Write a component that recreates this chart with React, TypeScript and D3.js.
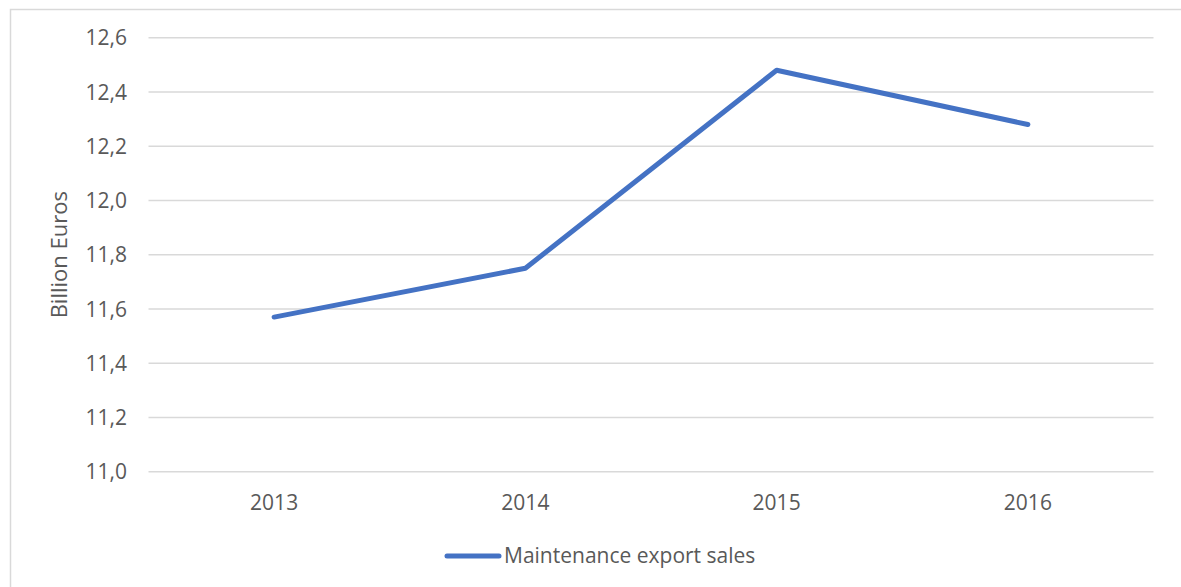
import React, { useEffect, useRef } from "react";
import * as d3 from "d3";

const years: string[] = ["2013", "2014", "2015", "2016"];
const values: number[] = [11.57, 11.75, 12.48, 12.28];
const yTicks: number[] = [11.0, 11.2, 11.4, 11.6, 11.8, 12.0, 12.2, 12.4, 12.6];
const seriesName = "Maintenance export sales";
const yTitle = "Billion Euros";

const W = 1181;
const H = 587;
const FONT = "'Open Sans', sans-serif";
const TEXT = "#595959";
const GRID = "#d9d9d9";
const BLUE = "#4472C4";
const FS = 21;

export default function App() {
  const ref = useRef<SVGSVGElement | null>(null);

  useEffect(() => {
    document.body.style.margin = "0";
    const svg = d3.select(ref.current);
    svg.selectAll("*").remove();

    const left = 148.5, right = 1153.5, top = 37.7, bottom = 471.7;
    const x = d3.scaleBand<string>().domain(years).range([left, right]);
    const y = d3.scaleLinear().domain([11.0, 12.6]).range([bottom, top]);

    svg.append("rect").attr("x", 0).attr("y", 0).attr("width", W).attr("height", H).attr("fill", "#fff");
    svg.append("rect").attr("x", 10.5).attr("y", 9.5).attr("width", W + 10).attr("height", H + 10)
      .attr("fill", "none").attr("stroke", GRID).attr("stroke-width", 1.5);

    const g = svg.append("g");
    g.selectAll("line.grid").data(yTicks).enter().append("line")
      .attr("x1", left).attr("x2", right)
      .attr("y1", d => y(d)).attr("y2", d => y(d))
      .attr("stroke", GRID).attr("stroke-width", 1.5);

    const fmt = (d: number) => d.toFixed(1).replace(".", ",");
    g.selectAll("text.ytick").data(yTicks).enter().append("text")
      .attr("x", 127).attr("y", d => y(d)).attr("dy", "0.36em")
      .attr("text-anchor", "end").attr("font-family", FONT).attr("font-size", FS)
      .attr("fill", TEXT).text(d => fmt(d));

    g.selectAll("text.xtick").data(years).enter().append("text")
      .attr("x", d => (x(d) as number) + x.bandwidth() / 2).attr("y", 510)
      .attr("text-anchor", "middle").attr("font-family", FONT).attr("font-size", FS)
      .attr("fill", TEXT).text(d => d);

    svg.append("text")
      .attr("transform", `translate(67,${(top + bottom) / 2}) rotate(-90)`)
      .attr("text-anchor", "middle").attr("font-family", FONT).attr("font-size", FS + 1)
      .attr("fill", TEXT).text(yTitle);

    const line = d3.line<number>()
      .x((_, i) => (x(years[i]) as number) + x.bandwidth() / 2)
      .y(d => y(d));
    svg.append("path").datum(values).attr("d", line)
      .attr("fill", "none").attr("stroke", BLUE).attr("stroke-width", 5)
      .attr("stroke-linecap", "round").attr("stroke-linejoin", "round");

    svg.append("line").attr("x1", 447).attr("x2", 499).attr("y1", 556).attr("y2", 556)
      .attr("stroke", BLUE).attr("stroke-width", 5).attr("stroke-linecap", "round");
    svg.append("text").attr("x", 504).attr("y", 563)
      .attr("font-family", FONT).attr("font-size", FS).attr("fill", TEXT).text(seriesName);
  }, []);

  return <svg ref={ref} width={W} height={H} style={{ display: "block" }} />;
}
